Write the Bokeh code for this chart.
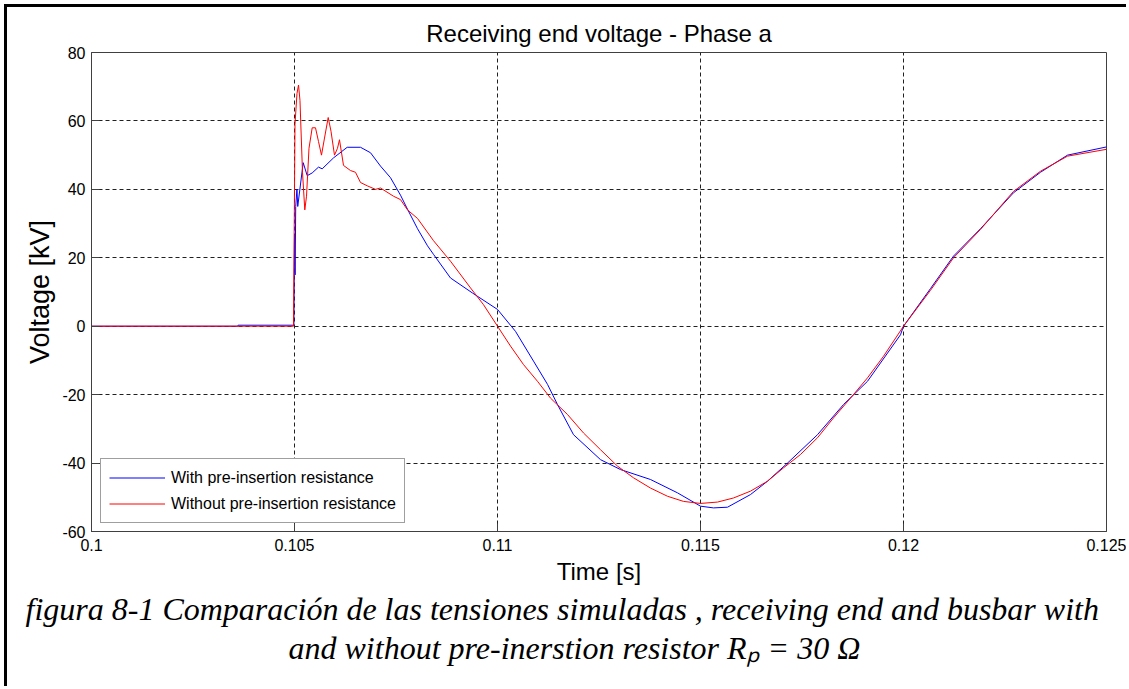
from bokeh.plotting import figure
from bokeh.models import FixedTicker, Title
from bokeh.embed import file_html
from bokeh.resources import INLINE

# ---- data ----
t_with = [0.1000, 0.10360, 0.10361, 0.104985, 0.105000, 0.105015, 0.105030, 0.105060,
          0.105080, 0.105214, 0.105313, 0.105436, 0.105591, 0.105682, 0.105961,
          0.106298, 0.106626, 0.106872, 0.107118, 0.107365, 0.107611, 0.107783,
          0.108030, 0.108276, 0.108424, 0.108842, 0.109384, 0.110000, 0.110443,
          0.110887, 0.111232, 0.111478, 0.111872, 0.112537, 0.113030, 0.113768,
          0.114433, 0.115000, 0.115320, 0.115665, 0.116232, 0.116650, 0.117143,
          0.117882, 0.118522, 0.119113, 0.119926, 0.120000, 0.120665, 0.121232,
          0.121897, 0.122709, 0.123374, 0.124039, 0.125000]
v_with = [0.0, 0.0, 0.3, 0.3, 26.0, 15.0, 35.0, 40.0,
          35.0, 47.8, 44.0, 44.8, 46.5, 46.0, 49.2,
          52.3, 52.3, 50.7, 46.8, 43.4, 38.3, 34.2,
          28.5, 23.5, 21.0, 14.1, 9.7, 4.9, -1.5,
          -10.2, -17.0, -22.9, -31.7, -39.0, -41.9, -44.8,
          -48.7, -52.6, -53.1, -52.9, -49.2, -45.3, -40.0,
          -31.7, -22.9, -16.1, -2.5, 0.0, 11.0, 20.5,
          28.5, 39.0, 45.0, 50.0, 52.4]

t_without = [0.1000, 0.104975, 0.105012, 0.105061, 0.105099, 0.105135, 0.105197,
             0.105254, 0.105296, 0.105357, 0.105436, 0.105517, 0.105591, 0.105665,
             0.105739, 0.105830, 0.105899, 0.105985, 0.106059, 0.106108, 0.106207,
             0.106379, 0.106502, 0.106626, 0.106798, 0.106995, 0.107118, 0.107438,
             0.107611, 0.107783, 0.108030, 0.108424, 0.108842, 0.109335, 0.109655,
             0.110000, 0.110320, 0.110640, 0.110985, 0.111305, 0.111724, 0.112118,
             0.112537, 0.112956, 0.113350, 0.113768, 0.114187, 0.114581, 0.115000,
             0.115419, 0.115813, 0.116232, 0.116650, 0.117044, 0.117463, 0.117882,
             0.118276, 0.118695, 0.119113, 0.119507, 0.120000, 0.120665, 0.121232,
             0.121897, 0.122709, 0.123374, 0.124039, 0.125000]
v_without = [0.0, 0.0, 59.0, 68.0, 70.5, 66.0, 45.0,
             34.0, 38.0, 52.0, 58.0, 58.0, 54.0, 50.0,
             55.0, 61.0, 57.0, 50.0, 52.0, 54.5, 47.0,
             45.5, 45.0, 42.0, 41.0, 40.0, 40.4, 38.0,
             37.0, 34.0, 31.5, 25.0, 19.0, 11.2, 6.3,
             0.0, -5.8, -11.2, -16.1, -21.0, -25.8, -31.2,
             -36.1, -40.9, -44.3, -47.3, -49.7, -51.2, -51.8,
             -51.4, -50.2, -48.2, -45.3, -41.4, -37.5, -32.6,
             -26.8, -21.0, -15.1, -8.8, 0.0, 10.5, 20.0,
             28.3, 39.4, 45.3, 49.7, 51.7]

x_ticks = [0.1, 0.105, 0.11, 0.115, 0.12, 0.125]
x_tick_labels = ["0.1", "0.105", "0.11", "0.115", "0.12", "0.125"]
y_ticks = [-60, -40, -20, 0, 20, 40, 60, 80]
y_tick_labels = ["-60", "-40", "-20", "0", "20", "40", "60", "80"]

title_text = "Receiving end voltage - Phase a"
x_label = "Time [s]"
y_label = "Voltage [kV]"
series_names = ["With pre-insertion resistance", "Without pre-insertion resistance"]
caption_1 = "figura 8-1 Comparación de las tensiones simuladas , receiving end and busbar  with"
caption_2 = "and without pre-inerstion resistor Rₚ = 30 Ω"

SANS = "Liberation Sans"
SERIF = "Liberation Serif"
DARK = "#404040"

p = figure(width=1122, height=682, x_range=(0.1, 0.125), y_range=(-60, 80),
           output_backend="svg", toolbar_location=None,
           min_border_left=84, min_border_right=23, min_border_top=45, min_border_bottom=158)
p.styles = {"border-left": "3px solid black", "border-top": "3px solid black",
            "margin-left": "4px", "margin-top": "4px"}

p.background_fill_color = "white"
p.border_fill_color = "white"
p.outline_line_color = DARK
p.outline_line_width = 1

p.line(t_with, v_with, line_color="blue", line_width=1, legend_label=series_names[0])
p.line(t_without, v_without, line_color="red", line_width=1, legend_label=series_names[1])

# axes
p.xaxis.ticker = FixedTicker(ticks=x_ticks)
p.xaxis.major_label_overrides = {t: s for t, s in zip(x_ticks, x_tick_labels)}
p.yaxis.ticker = FixedTicker(ticks=y_ticks)
p.yaxis.major_label_overrides = {t: s for t, s in zip(y_ticks, y_tick_labels)}
for ax in (p.xaxis, p.yaxis):
    ax.axis_line_color = DARK
    ax.major_tick_line_color = DARK
    ax.major_tick_in = 8
    ax.major_tick_out = 0
    ax.minor_tick_line_color = None
    ax.major_label_text_font = SANS
    ax.major_label_text_font_size = "16px"
    ax.major_label_text_color = "black"
    ax.axis_label_text_font = SANS
    ax.axis_label_text_font_style = "normal"
    ax.axis_label_text_color = "black"
p.xaxis.axis_label = x_label
p.yaxis.axis_label = y_label
p.xaxis.axis_label_text_font_size = "24px"
p.yaxis.axis_label_text_font_size = "27px"
p.xaxis.major_label_standoff = 7
p.yaxis.major_label_standoff = 6
p.xaxis.axis_label_standoff = 4
p.yaxis.axis_label_standoff = 4

p.grid.grid_line_color = "#202020"
p.grid.grid_line_dash = "4 3"
p.grid.grid_line_width = 1

# title
p.title.text = title_text
p.title.align = "center"
p.title.text_font = SANS
p.title.text_font_style = "normal"
p.title.text_font_size = "24px"
p.title.text_color = "black"
p.title.standoff = 12

# legend
lg = p.legend[0]
lg.location = (9, 8)
lg.label_text_font = SANS
lg.label_text_font_size = "16px"
lg.label_text_color = "black"
lg.glyph_width = 56
lg.glyph_height = 21
lg.label_height = 21
lg.label_standoff = 6
lg.spacing = 5
lg.padding = 8
lg.margin = 0
lg.border_line_color = DARK
lg.border_line_width = 1
lg.background_fill_alpha = 1.0

# caption lines
cap1 = Title(text=caption_1, align="left", offset=-66, text_font=SERIF,
             text_font_style="italic", text_font_size="32px", text_color="black", standoff=2)
cap2 = Title(text=caption_2, align="left", offset=197, text_font=SERIF,
             text_font_style="italic", text_font_size="32px", text_color="black", standoff=0)
p.add_layout(cap1, "below")
p.add_layout(cap2, "below")

open("out.html", "w").write(file_html(p, INLINE))
